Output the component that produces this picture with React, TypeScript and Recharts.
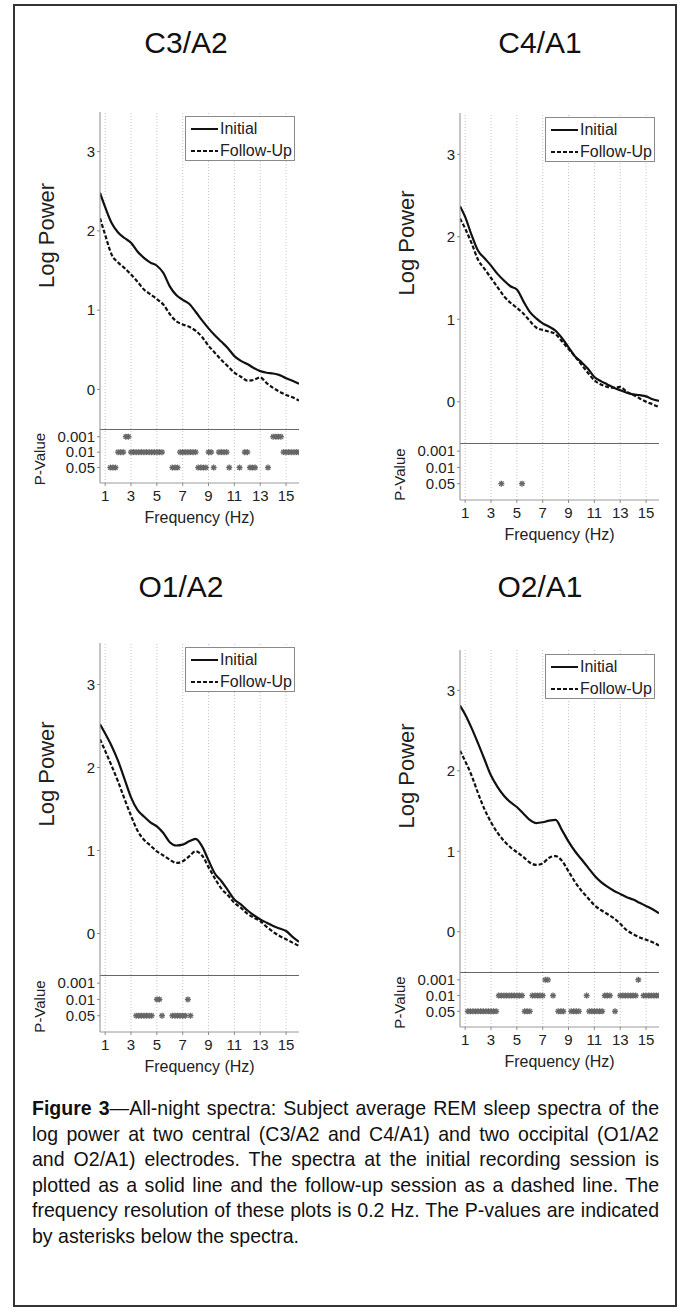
import {
  LineChart,
  Line,
  ScatterChart,
  Scatter,
  XAxis,
  YAxis,
  ReferenceLine,
  Legend,
} from "recharts";

// frequency grid (Hz) shared by all spectra
const freqs = [
  0.6, 1, 1.5, 2, 2.5, 3, 3.5, 4, 4.5, 5, 5.5, 6, 6.5, 7, 7.5, 8, 8.5, 9, 9.5,
  10, 10.5, 11, 11.5, 12, 12.5, 13, 13.5, 14, 14.5, 15, 15.5, 16,
];

const freqTicks = [1, 3, 5, 7, 9, 11, 13, 15];
const powerTicks = [0, 1, 2, 3];
const pLevels = [1, 2, 3];
const pTickLabels = ["0.05", "0.01", "0.001"];
const seriesNames = ["Initial", "Follow-Up"];

// C3/A2
const c3Initial = [
  2.48, 2.3, 2.1, 1.98, 1.91, 1.85, 1.74, 1.66, 1.6, 1.56, 1.47, 1.3, 1.19,
  1.13, 1.08, 0.98, 0.87, 0.77, 0.68, 0.6, 0.52, 0.42, 0.36, 0.32, 0.27, 0.23,
  0.21, 0.2, 0.18, 0.14, 0.11, 0.07,
];
const c3FollowUp = [
  2.16, 1.95, 1.7, 1.6, 1.53, 1.45, 1.36, 1.26, 1.2, 1.14, 1.07, 0.95, 0.86,
  0.82, 0.79, 0.74, 0.66, 0.55, 0.46, 0.37, 0.29, 0.21, 0.16, 0.11, 0.12, 0.15,
  0.08, 0.02, -0.03, -0.07, -0.1, -0.14,
];
const c3P001 = [2.6, 2.8, 14.0, 14.2, 14.4, 14.6];
const c3P01 = [
  2.0, 2.2, 2.4, 3.0, 3.2, 3.4, 3.6, 3.8, 4.0, 4.2, 4.4, 4.6, 4.8, 5.0, 5.2,
  5.4, 6.8, 7.0, 7.2, 7.4, 7.6, 7.8, 8.0, 9.0, 9.2, 9.8, 10.0, 10.2, 10.4, 11.8,
  12.0, 14.8, 15.0, 15.2, 15.4, 15.6, 15.8, 16.0,
];
const c3P05 = [
  1.4, 1.6, 1.8, 6.2, 6.4, 6.6, 8.2, 8.4, 8.6, 8.8, 9.4, 10.6, 11.4, 12.2, 12.4,
  12.6, 13.6,
];

// C4/A1
const c4Initial = [
  2.37, 2.24, 2.02, 1.83, 1.74, 1.65, 1.55, 1.47, 1.4, 1.36, 1.22, 1.09, 1.01,
  0.95, 0.91, 0.86, 0.77, 0.66, 0.55, 0.48, 0.4, 0.3, 0.25, 0.21, 0.17, 0.14,
  0.11, 0.09, 0.08, 0.065, 0.03, 0.01,
];
const c4FollowUp = [
  2.22, 2.1, 1.92, 1.72, 1.61, 1.5, 1.39, 1.28, 1.2, 1.14, 1.07, 0.98, 0.9,
  0.87, 0.85, 0.82, 0.73, 0.64, 0.55, 0.45, 0.35, 0.26, 0.21, 0.18, 0.17, 0.18,
  0.12, 0.085, 0.04, 0.0, -0.03, -0.065,
];
const c4P001: number[] = [];
const c4P01: number[] = [];
const c4P05 = [3.8, 5.4];

// O1/A2
const o1Initial = [
  2.52, 2.41, 2.26, 2.08, 1.86, 1.64, 1.49, 1.41, 1.34, 1.29, 1.21, 1.1, 1.06,
  1.07, 1.11, 1.14, 1.05, 0.88, 0.72, 0.63, 0.52, 0.41, 0.35, 0.28, 0.22, 0.17,
  0.13, 0.09, 0.06, 0.03, -0.04, -0.1,
];
const o1FollowUp = [
  2.34, 2.2, 2.02, 1.83, 1.62, 1.42, 1.24, 1.13, 1.06, 0.99, 0.94, 0.89, 0.85,
  0.87, 0.93, 0.99, 0.94, 0.8, 0.66, 0.54, 0.46, 0.37, 0.31, 0.24, 0.19, 0.15,
  0.08, 0.02, -0.03, -0.07, -0.11, -0.15,
];
const o1P001: number[] = [];
const o1P01 = [5.0, 5.2, 7.4];
const o1P05 = [
  3.4, 3.6, 3.8, 4.0, 4.2, 4.4, 4.6, 5.4, 6.2, 6.4, 6.6, 6.8, 7.0, 7.2, 7.6,
];

// O2/A1
const o2Initial = [
  2.81, 2.7, 2.53, 2.34, 2.14, 1.94, 1.8, 1.69, 1.61, 1.55, 1.47, 1.39, 1.35,
  1.36, 1.38, 1.39, 1.26, 1.12, 1.0, 0.9, 0.8, 0.7, 0.62, 0.56, 0.51, 0.47,
  0.43, 0.4, 0.36, 0.32, 0.28, 0.23,
];
const o2FollowUp = [
  2.25, 2.12, 1.94, 1.72, 1.52, 1.36, 1.23, 1.13, 1.05, 0.99, 0.93, 0.86, 0.83,
  0.85, 0.92, 0.94, 0.88, 0.75, 0.62, 0.51, 0.42, 0.33, 0.27, 0.22, 0.17, 0.1,
  0.02, -0.03, -0.07, -0.1, -0.13, -0.17,
];
const o2P001 = [7.2, 7.4, 14.4];
const o2P01 = [
  3.6, 3.8, 4.0, 4.2, 4.4, 4.6, 4.8, 5.0, 5.2, 5.4, 6.2, 6.4, 6.6, 6.8, 7.0,
  7.8, 10.4, 11.8, 12.0, 12.2, 13.0, 13.2, 13.4, 13.6, 13.8, 14.0, 14.2, 14.8,
  15.0, 15.2, 15.4, 15.6, 15.8, 16.0,
];
const o2P05 = [
  1.2, 1.4, 1.6, 1.8, 2.0, 2.2, 2.4, 2.6, 2.8, 3.0, 3.2, 3.4, 5.6, 5.8, 6.0,
  8.2, 8.4, 8.6, 9.2, 9.4, 9.6, 9.8, 10.6, 10.8, 11.0, 11.2, 11.4, 11.6, 12.6,
];

const font = "'Liberation Sans', Arial, Helvetica, sans-serif";
const ink = "#222";
const axisGray = "#8c8c8c";
const seriesDash = [undefined, "4 2"];

// vertical axis title, drawn through the axis label slot
const vLabel =
  (text: string, dx: number, dy: number, size: number) => (props: any) => {
    const vb = props.viewBox;
    const x = vb.x + dx;
    const y = vb.y + vb.height / 2 + dy;
    return (
      <text
        x={x}
        y={y}
        transform={`rotate(-90 ${x} ${y})`}
        textAnchor="middle"
        dominantBaseline="central"
        fontSize={size}
        fill={ink}
        fontFamily={font}
      >
        {text}
      </text>
    );
  };

const Asterisk = (props: any) => {
  const { cx, cy } = props;
  const r = 3;
  const d = r * 0.72;
  return (
    <g stroke="#666" strokeWidth={1.35}>
      <line x1={cx - r} y1={cy} x2={cx + r} y2={cy} />
      <line x1={cx} y1={cy - r} x2={cx} y2={cy + r} />
      <line x1={cx - d} y1={cy - d} x2={cx + d} y2={cy + d} />
      <line x1={cx - d} y1={cy + d} x2={cx + d} y2={cy - d} />
    </g>
  );
};

const LegendBox = () => (
  <div
    style={{
      width: 110,
      height: 45,
      boxSizing: "border-box",
      border: "1px solid #8a8a8a",
      background: "#fff",
      padding: "1px 0 0 5px",
      fontFamily: font,
      fontSize: 16,
      color: ink,
    }}
  >
    {seriesNames.map((name, i) => (
      <div key={name} style={{ display: "flex", alignItems: "center", height: 22 }}>
        <svg width={27} height={10}>
          <line
            x1={0}
            y1={5}
            x2={27}
            y2={5}
            stroke="#111"
            strokeWidth={2}
            strokeDasharray={seriesDash[i]}
          />
        </svg>
        <span style={{ marginLeft: 2 }}>{name}</span>
      </div>
    ))}
  </div>
);

type Layout = {
  axisX: number;
  right: number;
  top: number;
  sep: number;
  bottom: number;
  titleX: number;
  titleY: number;
};

const layouts: Record<string, Layout> = {
  c3: { axisX: 100, right: 299, top: 112, sep: 429, bottom: 483, titleX: 186, titleY: 43 },
  c4: { axisX: 460, right: 659, top: 113, sep: 443, bottom: 500, titleX: 540, titleY: 43 },
  o1: { axisX: 100, right: 299, top: 643, sep: 975, bottom: 1032, titleX: 181, titleY: 587 },
  o2: { axisX: 460, right: 659, top: 650, sep: 972, bottom: 1027, titleX: 540, titleY: 587 },
};

function Panel({
  title,
  lay,
  initial,
  followUp,
  p001,
  p01,
  p05,
}: {
  title: string;
  lay: Layout;
  initial: number[];
  followUp: number[];
  p001: number[];
  p01: number[];
  p05: number[];
}) {
  const yAxisW = 80;
  const left = lay.axisX - yAxisW;
  const width = lay.right - left + 6;
  const rows = freqs.map((f, i) => ({
    f,
    initial: initial[i],
    followUp: followUp[i],
  }));
  const stars = [
    ...p05.map((f) => ({ f, level: pLevels[0] })),
    ...p01.map((f) => ({ f, level: pLevels[1] })),
    ...p001.map((f) => ({ f, level: pLevels[2] })),
  ];
  const tickStyle = { fontSize: 15, fill: ink, fontFamily: font };

  return (
    <>
      <div
        style={{
          position: "absolute",
          left: lay.titleX - 100,
          top: lay.titleY - 18,
          width: 200,
          textAlign: "center",
          fontSize: 30,
          lineHeight: "36px",
          fontFamily: font,
          color: "#111",
        }}
      >
        {title}
      </div>

      <div style={{ position: "absolute", left, top: lay.top }}>
        <LineChart
          width={width}
          height={lay.sep - lay.top}
          data={rows}
          margin={{ top: 0, right: 6, bottom: 0, left: 0 }}
        >
          <XAxis type="number" dataKey="f" domain={[0.6, 16]} hide allowDataOverflow />
          <YAxis
            type="number"
            domain={[-0.5, 3.5]}
            ticks={powerTicks}
            interval={0}
            allowDataOverflow
            width={yAxisW}
            axisLine={{ stroke: axisGray }}
            tickLine={{ stroke: axisGray }}
            tickSize={3}
            tickMargin={2}
            tick={tickStyle}
            label={vLabel("Log Power", 26, -35, 22)}
          />
          {freqTicks.map((f) => (
            <ReferenceLine key={f} x={f} stroke="#c4c4c4" strokeDasharray="1 2" />
          ))}
          <Line
            type="monotone"
            dataKey="initial"
            name={seriesNames[0]}
            stroke="#111"
            strokeWidth={2.2}
            dot={false}
            isAnimationActive={false}
          />
          <Line
            type="monotone"
            dataKey="followUp"
            name={seriesNames[1]}
            stroke="#111"
            strokeWidth={2.2}
            strokeDasharray={seriesDash[1]}
            dot={false}
            isAnimationActive={false}
          />
          <Legend
            layout="horizontal"
            verticalAlign="middle"
            align="center"
            width={110}
            height={45}
            content={LegendBox}
            wrapperStyle={{ left: lay.right - left - 4 - 110, top: 4 }}
          />
        </LineChart>
      </div>

      <div style={{ position: "absolute", left, top: lay.sep }}>
        <ScatterChart
          width={width}
          height={lay.bottom - lay.sep + 44}
          margin={{ top: 0, right: 6, bottom: 0, left: 0 }}
        >
          <XAxis
            type="number"
            dataKey="f"
            domain={[0.6, 16]}
            ticks={freqTicks}
            interval={0}
            allowDataOverflow
            height={44}
            axisLine={{ stroke: "#9a9a9a" }}
            tickLine={{ stroke: axisGray }}
            tickSize={3}
            tickMargin={4}
            tick={tickStyle}
            label={{
              value: "Frequency (Hz)",
              position: "insideBottom",
              offset: 4,
              fontSize: 16,
              fill: ink,
              fontFamily: font,
            }}
          />
          <YAxis
            type="number"
            dataKey="level"
            domain={[0, 3.5]}
            ticks={pLevels}
            interval={0}
            allowDataOverflow
            tickFormatter={(v: number) => pTickLabels[v - 1]}
            width={yAxisW}
            axisLine={{ stroke: axisGray }}
            tickLine={{ stroke: axisGray }}
            tickSize={3}
            tickMargin={2}
            tick={tickStyle}
            label={vLabel("P-Value", 19, 3, 15)}
          />
          {freqTicks.map((f) => (
            <ReferenceLine key={f} x={f} stroke="#c4c4c4" strokeDasharray="1 2" />
          ))}
          <ReferenceLine y={3.5} stroke="#333" strokeWidth={1.6} />
          <Scatter data={stars} shape={Asterisk} isAnimationActive={false} />
        </ScatterChart>
      </div>
    </>
  );
}

export default function App() {
  const captionScale = 0.93;
  return (
    <div
      style={{
        position: "absolute",
        left: 0,
        top: 0,
        width: 686,
        height: 1316,
        background: "#fff",
        fontFamily: font,
      }}
    >
      <div
        style={{
          position: "absolute",
          left: 13,
          top: 4,
          width: 664,
          height: 1303,
          border: "2px solid #333",
          boxSizing: "border-box",
        }}
      />

      <Panel title="C3/A2" lay={layouts.c3} initial={c3Initial} followUp={c3FollowUp} p001={c3P001} p01={c3P01} p05={c3P05} />
      <Panel title="C4/A1" lay={layouts.c4} initial={c4Initial} followUp={c4FollowUp} p001={c4P001} p01={c4P01} p05={c4P05} />
      <Panel title="O1/A2" lay={layouts.o1} initial={o1Initial} followUp={o1FollowUp} p001={o1P001} p01={o1P01} p05={o1P05} />
      <Panel title="O2/A1" lay={layouts.o2} initial={o2Initial} followUp={o2FollowUp} p001={o2P001} p01={o2P01} p05={o2P05} />

      <div
        style={{
          position: "absolute",
          left: 32,
          top: 1095,
          width: 627 / captionScale,
          transform: `scaleX(${captionScale})`,
          transformOrigin: "0 0",
          fontFamily: font,
          fontSize: 21,
          lineHeight: "25.5px",
          textAlign: "justify",
          color: "#111",
        }}
      >
        <b>Figure 3</b>—All-night spectra: Subject average REM sleep spectra of
        the log power at two central (C3/A2 and C4/A1) and two occipital (O1/A2
        and O2/A1) electrodes. The spectra at the initial recording session is
        plotted as a solid line and the follow-up session as a dashed line. The
        frequency resolution of these plots is 0.2 Hz. The P-values are
        indicated by asterisks below the spectra.
      </div>
    </div>
  );
}
